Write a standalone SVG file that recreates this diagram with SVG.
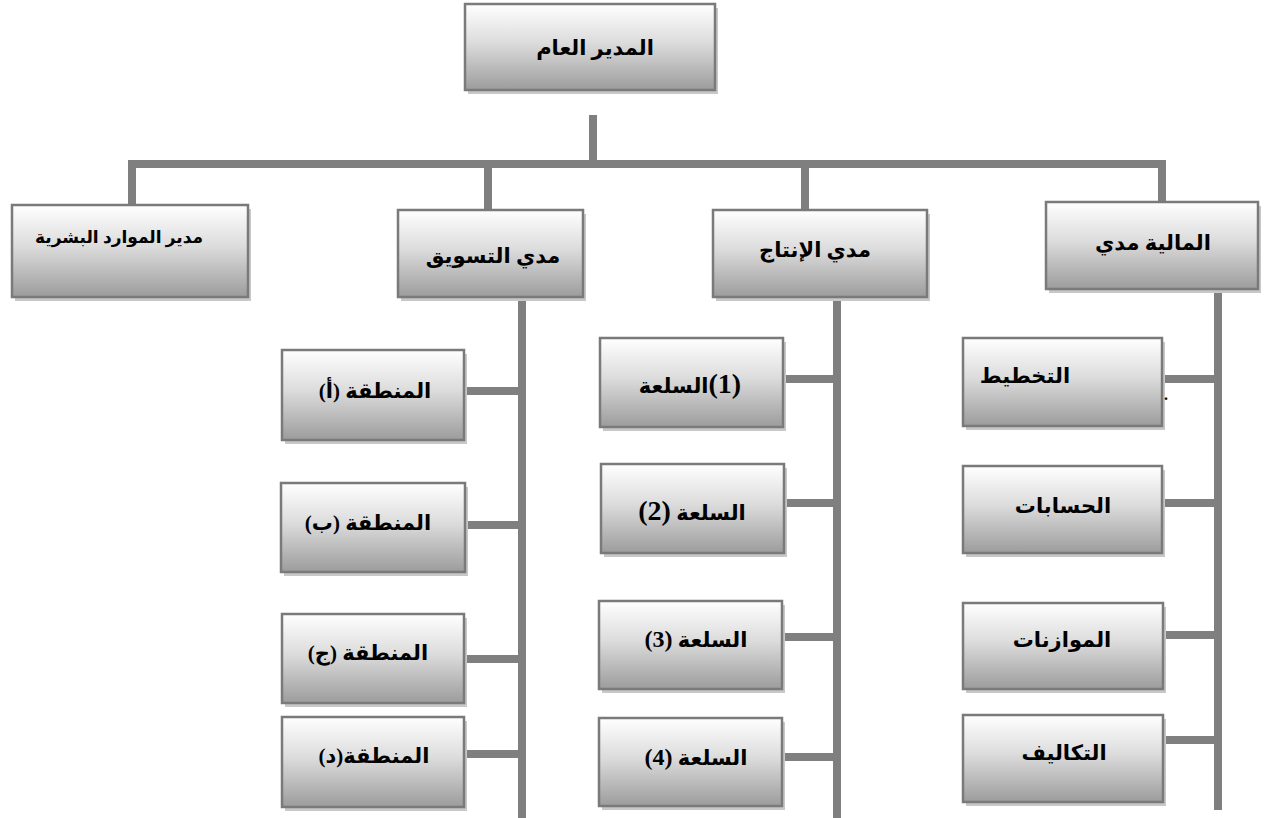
<svg xmlns="http://www.w3.org/2000/svg" width="1267" height="818" viewBox="0 0 1267 818">
<defs>
<linearGradient id="g" x1="0" y1="0" x2="0" y2="1">
<stop offset="0" stop-color="#ffffff"/>
<stop offset="0.45" stop-color="#dcdcdc"/>
<stop offset="1" stop-color="#9c9c9c"/>
</linearGradient>
<style>
.sh{fill:#c8c8c8}
.bx{fill:url(#g);stroke:#7a7a7a;stroke-width:2.5}
.t{font-family:"Liberation Serif","DejaVu Sans",serif;font-weight:bold;font-size:21px;fill:#000;text-anchor:middle;direction:rtl}
.s{font-size:17px}
.n{font-size:28px}
.m{font-size:24px}
.ln{stroke:#7f7f7f;stroke-width:8;fill:none}
</style>
</defs>
<rect width="1267" height="818" fill="#fff"/>
<g id="connectors" class="ln">
<line x1="593" y1="115" x2="593" y2="164"/>
<line x1="128" y1="164" x2="1166" y2="164"/>
<line x1="132" y1="160" x2="132" y2="205"/>
<line x1="488" y1="164" x2="488" y2="210"/>
<line x1="805" y1="164" x2="805" y2="210"/>
<line x1="1162" y1="160" x2="1162" y2="202"/>
<line x1="522" y1="297" x2="522" y2="818"/>
<line x1="837" y1="297" x2="837" y2="818"/>
<line x1="1218" y1="289" x2="1218" y2="810"/>
<line x1="464" y1="391" x2="522" y2="391"/>
<line x1="465" y1="525" x2="522" y2="525"/>
<line x1="464" y1="659" x2="522" y2="659"/>
<line x1="464" y1="754" x2="522" y2="754"/>
<line x1="783" y1="379" x2="837" y2="379"/>
<line x1="784" y1="503" x2="837" y2="503"/>
<line x1="782" y1="637" x2="837" y2="637"/>
<line x1="782" y1="757" x2="837" y2="757"/>
<line x1="1162" y1="379" x2="1218" y2="379"/>
<line x1="1162" y1="503" x2="1218" y2="503"/>
<line x1="1163" y1="635" x2="1218" y2="635"/>
<line x1="1163" y1="740" x2="1218" y2="740"/>
</g>
<g id="gm">
<rect class="sh" x="468" y="8" width="250" height="86"/>
<rect class="bx" x="465" y="4" width="250" height="86"/>
<text class="t" x="595" y="55">المدير العام</text>
</g>
<g id="hr">
<rect class="sh" x="15" y="209" width="236" height="92"/>
<rect class="bx" x="12" y="205" width="236" height="92"/>
<text class="t s" x="119" y="243">مدير الموارد البشرية</text>
</g>
<g id="marketing">
<rect class="sh" x="401" y="214" width="185" height="87"/>
<rect class="bx" x="398" y="210" width="185" height="87"/>
<text class="t" x="493" y="263">مدي التسويق</text>
</g>
<g id="production">
<rect class="sh" x="716" y="214" width="214" height="87"/>
<rect class="bx" x="713" y="210" width="214" height="87"/>
<text class="t" x="815" y="257">مدي الإنتاج</text>
</g>
<g id="finance">
<rect class="sh" x="1049" y="206" width="212" height="87"/>
<rect class="bx" x="1046" y="202" width="212" height="87"/>
<text class="t" x="1153" y="250">المالية مدي</text>
</g>
<g id="region-a">
<rect class="sh" x="285" y="354" width="182" height="90"/>
<rect class="bx" x="282" y="350" width="182" height="90"/>
<text class="t" x="375" y="398">المنطقة (أ)</text>
</g>
<g id="region-b">
<rect class="sh" x="284" y="487" width="184" height="89"/>
<rect class="bx" x="281" y="483" width="184" height="89"/>
<text class="t" x="368" y="530">المنطقة (ب)</text>
</g>
<g id="region-c">
<rect class="sh" x="285" y="618" width="182" height="89"/>
<rect class="bx" x="282" y="614" width="182" height="89"/>
<text class="t" x="368" y="660">المنطقة  (ج)</text>
</g>
<g id="region-d">
<rect class="sh" x="285" y="721" width="182" height="90"/>
<rect class="bx" x="282" y="717" width="182" height="90"/>
<text class="t" x="374" y="763">المنطقة(د)</text>
</g>
<g id="product-1">
<rect class="sh" x="603" y="342" width="183" height="89"/>
<rect class="bx" x="600" y="338" width="183" height="89"/>
<text class="t" x="690" y="393"><tspan class="n">(1)</tspan>السلعة</text>
</g>
<g id="product-2">
<rect class="sh" x="604" y="468" width="183" height="89"/>
<rect class="bx" x="601" y="464" width="183" height="89"/>
<text class="t" x="692" y="520">السلعة <tspan class="n">(2)</tspan></text>
</g>
<g id="product-3">
<rect class="sh" x="602" y="605" width="183" height="88"/>
<rect class="bx" x="599" y="601" width="183" height="88"/>
<text class="t" x="696" y="647">السلعة  <tspan class="m">(3)</tspan></text>
</g>
<g id="product-4">
<rect class="sh" x="602" y="722" width="183" height="88"/>
<rect class="bx" x="599" y="718" width="183" height="88"/>
<text class="t" x="696" y="765">السلعة  <tspan class="m">(4)</tspan></text>
</g>
<g id="planning">
<rect class="sh" x="966" y="342" width="199" height="88"/>
<rect class="bx" x="963" y="338" width="199" height="88"/>
<text class="t" x="1025" y="383">التخطيط</text>
<text class="t" x="1166" y="400" style="font-size:16px">.</text>
</g>
<g id="accounts">
<rect class="sh" x="966" y="470" width="199" height="87"/>
<rect class="bx" x="963" y="466" width="199" height="87"/>
<text class="t" x="1063" y="513">الحسابات</text>
</g>
<g id="budgets">
<rect class="sh" x="966" y="607" width="200" height="86"/>
<rect class="bx" x="963" y="603" width="200" height="86"/>
<text class="t" x="1062" y="647">الموازنات</text>
</g>
<g id="costs">
<rect class="sh" x="966" y="719" width="200" height="87"/>
<rect class="bx" x="963" y="715" width="200" height="87"/>
<text class="t" x="1064" y="760">التكاليف</text>
</g>
</svg>
